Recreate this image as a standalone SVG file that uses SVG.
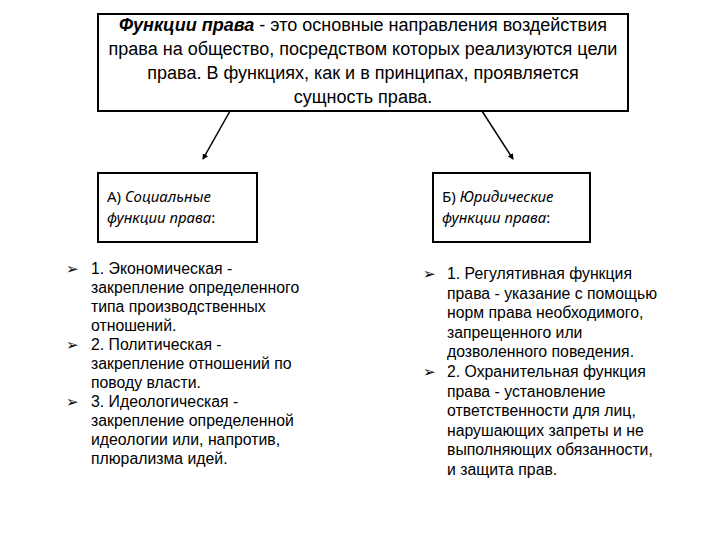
<svg xmlns="http://www.w3.org/2000/svg" width="720" height="540" viewBox="0 0 720 540">
<defs>
<style>
.box{fill:#fff;stroke:#000;stroke-width:2}
.t{font-family:"Liberation Sans",Arial,sans-serif;font-size:18px;fill:#000}
.h{font-family:"Noto Sans","Open Sans",sans-serif;font-size:15px;fill:#000}
.l{font-family:"Liberation Sans",Arial,sans-serif;font-size:15.8px;fill:#000}
.b{font-family:"DejaVu Sans",sans-serif;font-size:15px;fill:#000}
.c{stroke:#000;stroke-width:1.5;fill:none}
</style>
<marker id="ah" markerWidth="6" markerHeight="6" refX="5" refY="3" orient="auto" markerUnits="userSpaceOnUse">
<path d="M0,0 L6,3 L0,6 Z" fill="#000"/>
</marker>
</defs>
<rect width="720" height="540" fill="#fff"/>
<g id="connectors">
<line class="c" x1="230" y1="111" x2="203" y2="159" marker-end="url(#ah)"/>
<line class="c" x1="482" y1="111" x2="513" y2="159" marker-end="url(#ah)"/>
</g>
<g id="top">
<rect class="box" x="98" y="14" width="530" height="97"/>
<text class="t" text-anchor="middle" x="363" y="31"><tspan font-weight="bold" font-style="italic">Функции права</tspan> - это основные направления воздействия</text>
<text class="t" text-anchor="middle" x="363" y="55">права на общество, посредством которых реализуются цели</text>
<text class="t" text-anchor="middle" x="363" y="79">права. В функциях, как и в принципах, проявляется</text>
<text class="t" text-anchor="middle" x="363" y="103">сущность права.</text>
</g>
<g id="boxA">
<rect class="box" x="98" y="173" width="159" height="69"/>
<text class="h" x="107" y="202">А) <tspan font-style="italic">Социальные</tspan></text>
<text class="h" x="107" y="223"><tspan font-style="italic">функции права</tspan>:</text>
</g>
<g id="boxB">
<rect class="box" x="433" y="173" width="157" height="69"/>
<text class="h" x="442" y="202">Б) <tspan font-style="italic">Юридические</tspan></text>
<text class="h" x="442" y="223"><tspan font-style="italic">функции права</tspan>:</text>
</g>
<g id="listA">
<text class="b" x="66" y="274">➢</text>
<text class="b" x="66" y="350">➢</text>
<text class="b" x="66" y="407">➢</text>
<text class="l" x="91" y="274">1. Экономическая  -</text>
<text class="l" x="91" y="293">закрепление определенного</text>
<text class="l" x="91" y="312">типа производственных</text>
<text class="l" x="91" y="331">отношений.</text>
<text class="l" x="91" y="350">2. Политическая -</text>
<text class="l" x="91" y="369">закрепление отношений по</text>
<text class="l" x="91" y="388">поводу власти.</text>
<text class="l" x="91" y="407">3. Идеологическая -</text>
<text class="l" x="91" y="426">закрепление определенной</text>
<text class="l" x="91" y="445">идеологии или, напротив,</text>
<text class="l" x="91" y="464">плюрализма идей.</text>
</g>
<g id="listB">
<text class="b" x="423" y="279">➢</text>
<text class="b" x="423" y="377">➢</text>
<text class="l" x="447" y="279">1. Регулятивная функция</text>
<text class="l" x="447" y="298.6">права - указание с помощью</text>
<text class="l" x="447" y="318.2">норм права необходимого,</text>
<text class="l" x="447" y="337.8">запрещенного или</text>
<text class="l" x="447" y="357.4">дозволенного поведения.</text>
<text class="l" x="447" y="377">2. Охранительная функция</text>
<text class="l" x="447" y="396.6">права - установление</text>
<text class="l" x="447" y="416.2">ответственности для лиц,</text>
<text class="l" x="447" y="435.8">нарушающих запреты и не</text>
<text class="l" x="447" y="455.4">выполняющих обязанности,</text>
<text class="l" x="447" y="475">и защита прав.</text>
</g>
</svg>
